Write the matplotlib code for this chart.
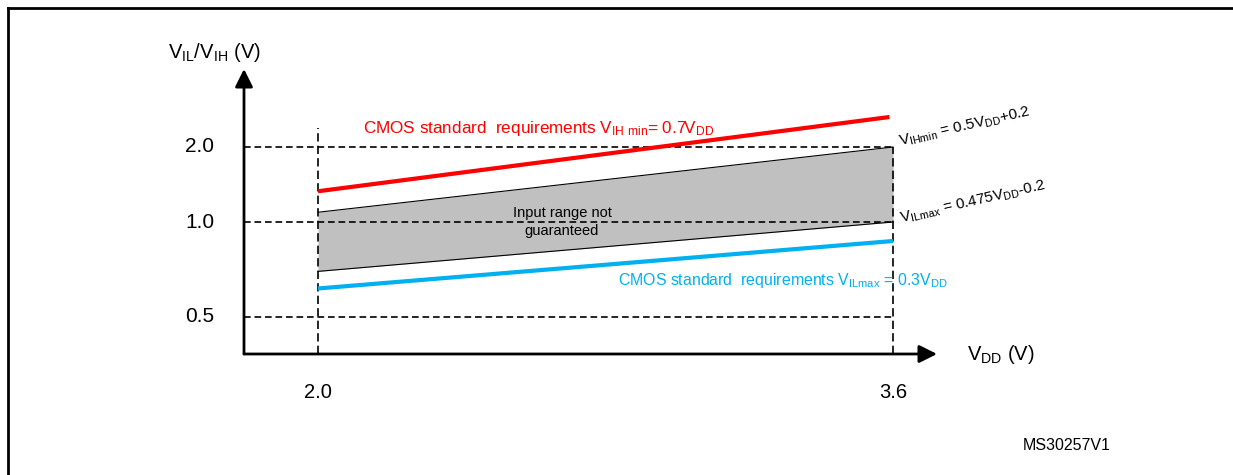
import matplotlib.pyplot as plt
import numpy as np
from matplotlib.lines import Line2D

plt.rcParams['font.family'] = ['Liberation Sans', 'DejaVu Sans']
plt.rcParams['mathtext.default'] = 'regular'

# schematic data (read from the drawing, not to scale)
vdd = [2.0, 3.6]
vih_cmos = [1.41, 2.40]     # CMOS VIH min = 0.7 VDD
vih_min = [1.13, 2.00]      # VIHmin = 0.5 VDD + 0.2
vil_max = [0.74, 1.00]      # VILmax = 0.475 VDD - 0.2
vil_cmos = [0.65, 0.90]     # CMOS VIL max = 0.3 VDD
y_ticks = [0.5, 1.0, 2.0]
y_tick_labels = ['0.5', '1.0', '2.0']
x_ticks = [2.0, 3.6]
x_tick_labels = ['2.0', '3.6']

W, H = 1233, 475

# the vertical axis is drawn not to scale: piecewise linear
knot_v = np.array([-1.0, 0.5, 1.0, 2.0, 4.0])
knot_p = np.array([-248.0, 37.0, 132.0, 207.0, 357.0])


def fwd(v):
    return np.interp(v, knot_v, knot_p)


def inv(p):
    return np.interp(p, knot_p, knot_v)


xs = 359.4                  # pixels per volt on x
x0 = 2.0 - 318 / xs


def at(px, py):
    # pixel position in the picture -> data position
    return x0 + px / xs, float(inv(354 - py))


fig = plt.figure(figsize=(W / 100, H / 100), dpi=100)
ax = fig.add_axes([0, 0, 1, 1])
ax.set_yscale('function', functions=(fwd, inv))
ax.set_xlim(x0, x0 + W / xs)
ax.set_ylim(inv(-121), inv(354))
ax.axis('off')

yax_x, _ = at(244, 0)
_, xax_y = at(0, 354)

# grey "not guaranteed" band
ax.fill_between(vdd, vil_max, vih_min, color='#c0c0c0', lw=0, zorder=1)
ax.plot(vdd, vih_min, color='black', lw=0.8, zorder=2)
ax.plot(vdd, vil_max, color='black', lw=0.8, zorder=2)

# dashed guides
dash = (0, (4, 2.3))
ax.hlines(y_ticks, yax_x, vdd[1], colors='black', linestyles=[dash], lw=1.2, zorder=3)
ax.vlines(vdd[0], xax_y, at(0, 128)[1], colors='black', linestyles=[(0, (5, 2.5))], lw=1.2, zorder=3)
ax.vlines(vdd[1], xax_y, vih_min[1], colors='black', linestyles=[(0, (5, 2.5))], lw=1.2, zorder=3)

# CMOS requirement lines
ax.plot([vdd[0], 3.59], vih_cmos, color='#ff0000', lw=3, solid_capstyle='butt', zorder=4)
ax.plot(vdd, vil_cmos, color='#00b0f0', lw=3, solid_capstyle='butt', zorder=4)

# axes with arrows
arrow = dict(arrowstyle='-|>,head_length=0.6,head_width=0.3', lw=2, color='black',
             mutation_scale=18, shrinkA=0, shrinkB=0)
ax.annotate('', xy=at(244, 69), xytext=(yax_x, xax_y), arrowprops=arrow, zorder=5)
ax.annotate('', xy=at(937, 354), xytext=(yax_x, xax_y), arrowprops=arrow, zorder=5)

# tick labels
for v, lab in zip(y_ticks, y_tick_labels):
    ax.text(at(200, 0)[0], v, lab, ha='center', va='center', fontsize=15)
for v, lab in zip(x_ticks, x_tick_labels):
    ax.text(v, at(0, 392)[1], lab, ha='center', va='center', fontsize=14.5)

ax.text(*at(168, 52), r'V$_{IL}$/V$_{IH}$ (V)', ha='left', va='center', fontsize=14.5)
ax.text(*at(967, 355), r'V$_{DD}$ (V)', ha='left', va='center', fontsize=14.5)

ax.text(*at(363, 128), r'CMOS standard  requirements V$_{IH\ min}$= 0.7V$_{DD}$',
        color='#ff0000', ha='left', va='center', fontsize=12.3)
ax.text(*at(618, 280), r'CMOS standard  requirements V$_{ILmax}$ = 0.3V$_{DD}$',
        color='#00b0f0', ha='left', va='center', fontsize=11.4)
ax.text(*at(562, 222), 'Input range not\nguaranteed', ha='center', va='center',
        fontsize=10.5, linespacing=1.35)

ax.text(*at(900, 146), r'V$_{IHmin}$ = 0.5V$_{DD}$+0.2', rotation=13,
        rotation_mode='anchor', ha='left', va='baseline', fontsize=11)
ax.text(*at(901, 223), r'V$_{ILmax}$ = 0.475V$_{DD}$-0.2', rotation=13,
        rotation_mode='anchor', ha='left', va='baseline', fontsize=11)

ax.text(*at(1023, 445), 'MS30257V1', ha='left', va='center', fontsize=11.5)

# figure frame (top and left edges)
fig.add_artist(Line2D([7.5 / W, 1], [1 - 7.5 / H, 1 - 7.5 / H], color='black', lw=2))
fig.add_artist(Line2D([7.5 / W, 7.5 / W], [0, 1 - 7.5 / H], color='black', lw=2))

fig.savefig('out.png', dpi=100)
